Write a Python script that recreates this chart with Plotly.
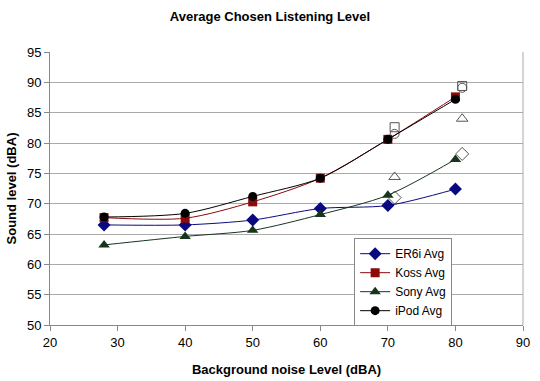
import plotly.graph_objects as go

noise = [28, 40, 50, 60, 70, 80]
er6i = [66.5, 66.5, 67.3, 69.2, 69.7, 72.4]
koss = [67.7, 67.6, 70.3, 74.2, 80.6, 87.6]
sony = [63.2, 64.6, 65.6, 68.2, 71.4, 77.3]
ipod = [67.8, 68.4, 71.2, 74.2, 80.6, 87.2]

# open (hollow) reference markers at 71 and 81 dBA
ref_x = [71, 81]
ref_er6i = [71.0, 78.2]
ref_koss = [82.6, 89.4]
ref_sony = [74.4, 84.0]
ref_ipod = [81.5, 89.1]

series = [
    ("ER6i Avg", er6i, "#0a0a80", "diamond", 10, ref_er6i, "diamond-open"),
    ("Koss Avg", koss, "#8b0a0a", "square", 9, ref_koss, "square-open"),
    ("Sony Avg", sony, "#16351c", "triangle-up", 10, ref_sony, "triangle-up-open"),
    ("iPod Avg", ipod, "#000000", "circle", 9, ref_ipod, "circle-open"),
]

fig = go.Figure()
for name, vals, col, sym, sz, refv, rsym in series:
    fig.add_trace(go.Scatter(
        x=ref_x, y=refv, mode="markers", showlegend=False, hoverinfo="skip",
        marker=dict(symbol=rsym, size=sz, color="#555", line=dict(width=1))))
for name, vals, col, sym, sz, refv, rsym in series:
    fig.add_trace(go.Scatter(
        x=noise, y=vals, mode="lines+markers", name=name,
        line=dict(color=col, width=1, shape="spline", smoothing=0.8),
        marker=dict(symbol=sym, size=sz, color=col)))

fig.update_layout(
    width=540, height=381,
    margin=dict(l=50, r=17, t=52, b=56),
    paper_bgcolor="white", plot_bgcolor="white",
    font=dict(family="Liberation Sans, Arial, sans-serif", size=13, color="#000"),
    title=dict(text="<b>Average Chosen Listening Level</b>", x=0.5, xanchor="center",
               y=1 - 16 / 381, yanchor="middle", font=dict(size=13)),
    legend=dict(x=0.643, y=0.318, xanchor="left", yanchor="top",
                bgcolor="white", bordercolor="#888", borderwidth=1,
                font=dict(size=12), itemwidth=30, tracegroupgap=0),
    showlegend=True,
)
fig.update_xaxes(
    range=[20, 90], dtick=10, tick0=20, showgrid=False,
    showline=True, linecolor="#888", linewidth=1, mirror=False,
    ticks="outside", ticklen=5, tickcolor="#888", ticklabeloverflow="allow",
    title=dict(text="<b>Background noise Level (dBA)</b>", font=dict(size=13), standoff=16),
    zeroline=False, automargin=False,
)
fig.update_yaxes(
    range=[50, 95], dtick=5, tick0=50, showgrid=True, gridcolor="#aaa", gridwidth=1,
    showline=True, linecolor="#888", linewidth=1,
    ticks="outside", ticklen=5, tickcolor="#888",
    title=dict(text="<b>Sound level (dBA)</b>", font=dict(size=13), standoff=7),
    zeroline=False, automargin=False,
)
# right border of plot area
fig.add_shape(type="line", xref="paper", yref="paper", x0=1, x1=1, y0=0, y1=1,
              line=dict(color="#aaa", width=1))

fig.write_html("out.html", config={"displayModeBar": False},
               post_script="document.body.style.margin='0';")
